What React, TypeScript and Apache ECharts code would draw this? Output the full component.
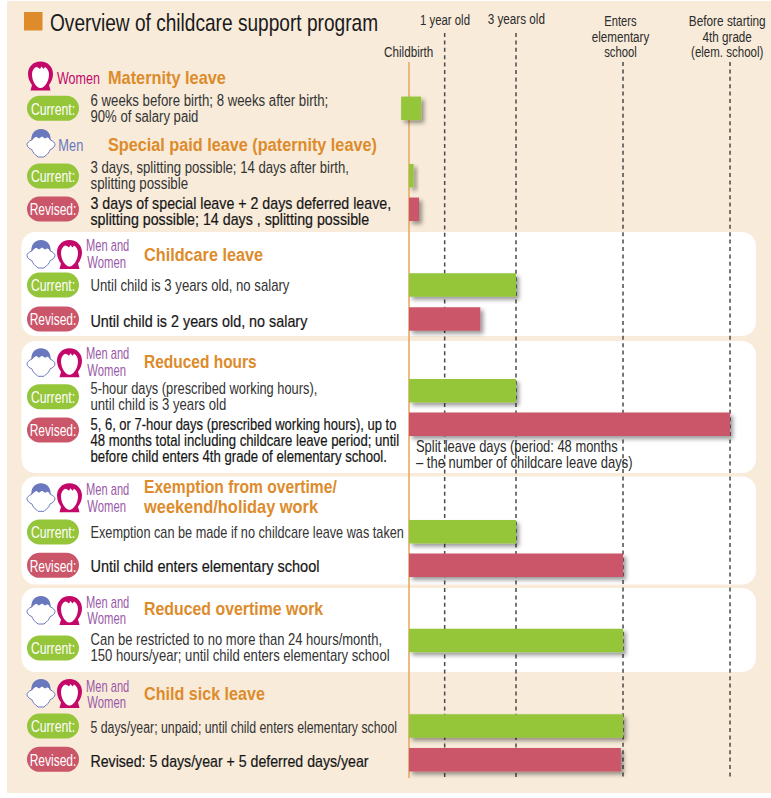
import React, { useEffect, useRef } from "react";
import * as echarts from "echarts";

// ---- data ----
const title = "Overview of childcare support program";
const milestoneNames = ["Childbirth", "1 year old", "3 years old", "Enters\nelementary\nschool", "Before starting\n4th grade\n(elem. school)"];
const milestoneYears = [0, 1, 3, 6, 9];

const barLabels = [
  "Maternity leave, current", "Paternity leave, current", "Paternity leave, revised",
  "Childcare leave, current", "Childcare leave, revised",
  "Reduced hours, current", "Reduced hours, revised",
  "Exemption from overtime, current", "Exemption from overtime, revised",
  "Reduced overtime, current",
  "Child sick leave, current", "Child sick leave, revised",
];
const barStatus = ["Current", "Current", "Revised", "Current", "Revised", "Current", "Revised", "Current", "Revised", "Current", "Current", "Revised"];
const barStartYears = [-0.22, 0, 0, 0, 0, 0, 0, 0, 0, 0, 0, 0];
const barEndYears = [0.34, 0.13, 0.28, 3, 2, 3, 9, 3, 6, 6, 6, 5.94];
const barLanes = [108.3, 175.7, 209.3, 285, 319, 390.7, 424.3, 531.8, 565.3, 640.5, 726, 759.8];

const rowTexts = [
  ["6 weeks before birth; 8 weeks after birth;", "90% of salary paid"],
  ["3 days, splitting possible; 14 days after birth,", "splitting possible"],
  ["3 days of special leave + 2 days deferred leave,", "splitting possible; 14 days , splitting possible"],
  ["Until child is 3 years old, no salary"],
  ["Until child is 2 years old, no salary"],
  ["5-hour days (prescribed working hours),", "until child is 3 years old"],
  ["5, 6, or 7-hour days (prescribed working hours), up to", "48 months total including childcare leave period; until", "before child enters 4th grade of elementary school."],
  ["Exemption can be made if no childcare leave was taken"],
  ["Until child enters elementary school"],
  ["Can be restricted to no more than 24 hours/month,", "150 hours/year; until child enters elementary school"],
  ["5 days/year; unpaid; until child enters elementary school"],
  ["Revised: 5 days/year + 5 deferred days/year"],
];
const noteLines = ["Split leave days (period: 48 months", "– the number of childcare leave days)"];

const sectionWho = ["Women", "Men", "Men and\nWomen", "Men and\nWomen", "Men and\nWomen", "Men and\nWomen", "Men and\nWomen"];
const sectionNames = [
  ["Maternity leave"],
  ["Special paid leave (paternity leave)"],
  ["Childcare leave"],
  ["Reduced hours"],
  ["Exemption from overtime/", "weekend/holiday work"],
  ["Reduced overtime work"],
  ["Child sick leave"],
];

// ---- layout & style ----
const W = 771, H = 798;
const FONT = '"Liberation Sans", Arial, sans-serif';
const GREEN = "#95C539", RED = "#CB566A", ORANGE = "#DD8B2B", DARK = "#2b2b2b";
const BLUE = "#6A78BD", PINK = "#C4086A", PURPLE = "#9A5AA8";
const PX_PER_YEAR = 35.67, ZERO_X = 409;
const panels = [[232, 336], [341, 473], [476.5, 584.5], [588, 672]];
const milestoneTop = [62, 33, 33, 62, 62];
const AXIS_BOTTOM = 778;

const pillLanes = [108.3, 176, 209, 285, 319, 396.7, 430, 532, 565.3, 648, 726, 759.3];
const rowTextFirstLine = [100.7, 168, 203, 286, 321, 388.7, 425, 532.7, 566.7, 640, 727.7, 761];
const rowTextWidths = [[238, 108], [258.7, 97.7], [301, 279], [199], [217], [226.7, 136], [306, 309, 296.7], [313.7], [229], [291.7, 299.3], [306.7], [278.3]];
const iconTops = [61.5, 129, 240, 348.3, 483.3, 596, 679];
const nameX = [108, 108, 144, 144, 144, 144, 144];
const nameLanes = [[78], [145.3], [255], [361.7], [487.7, 507.7], [609.3], [694.7]];
const nameWidths = [[118], [269], [119], [112.7], [193, 174.3], [179.3], [121]];
const whoLanes = [[78], [145.7], [246, 262], [354, 370], [490, 506], [602.7, 618.7], [686.7, 702.7]];
const milestoneCx = [408.7, 445, 516.3, 620.5, 727.2];
const milestoneLanes = [[51.7], [20], [19], [21, 37, 52.3], [21, 37, 52.3]];
const milestoneWidths = [[49.3], [50], [57.3], [32.3, 57.6, 32.7], [77, 49.3, 72.3]];

const HEAD_F_OUTER = "M12.5 0C5 0 0 5.500 0 12.500C0 17 2 21 4 23.500L2.500 29H22.500L21 23.500C23 21 25 17 25 12.500C25 5.500 20 0 12.500 0Z";
const HEAD_F_FACE = "M8 5.500C5.500 7 4 9.500 4 13C4 19 8 26.500 12.500 26.500C17 26.500 21 19 21 13C21 9.500 19.500 7 17 5.500L15.500 7.500L13.500 5L12 7.500L10 6Z";
const HEAD_M_HAIR = "M4.500 12C3.500 5.500 7.500 0 14 0C20.500 0 24.500 5.500 23.500 12C22.800 10 22 9 21 8L18 9.500L15 7.500L12 9.500L9 7.500C7.500 9 5.500 10 4.500 12Z";
const HEAD_M_FACE = "M4.500 11C2 12 0 14 0 15.500C0 17.500 2.500 20 4.800 20.500C5.800 23.500 8 25.800 10 27L11 28H17L18 27C20 25.800 22.200 23.500 23.200 20.500C25.500 20 28 17.500 28 15.500C28 14 26 12 23.500 11C22 5 6 5 4.500 11Z";

echarts.graphic.registerShape("headFOuter", echarts.graphic.extendPath(HEAD_F_OUTER, {}) as any);
echarts.graphic.registerShape("headFFace", echarts.graphic.extendPath(HEAD_F_FACE, {}) as any);
echarts.graphic.registerShape("headMHair", echarts.graphic.extendPath(HEAD_M_HAIR, {}) as any);
echarts.graphic.registerShape("headMFace", echarts.graphic.extendPath(HEAD_M_FACE, {}) as any);

const ctx = document.createElement("canvas").getContext("2d")!;
function fitScale(text: string, size: number, weight: string, width?: number) {
  if (!width) return 0.82;
  ctx.font = `${weight} ${size}px ${FONT}`;
  return width / ctx.measureText(text).width;
}
function txt(x: number, y: number, text: string, fontSize: number, fill: string, width?: number, extra: any = {}) {
  const weight = extra.fontWeight ?? "normal";
  return {
    type: "text", x, y, scaleX: fitScale(text, fontSize, weight, width), silent: true, z: 6,
    style: { text, fontSize, fill, fontFamily: FONT, textVerticalAlign: "middle", fontWeight: weight, textAlign: extra.textAlign ?? "left", stroke: extra.stroke, lineWidth: extra.lineWidth },
  };
}
function female(x: number, y: number) {
  return {
    type: "group", x, y, z: 5, children: [
      { type: "headFOuter", z: 5, style: { fill: PINK } },
      { type: "headFFace", z: 5, style: { fill: "#fff" } },
    ],
  };
}
function male(x: number, y: number) {
  return {
    type: "group", x, y, z: 5, children: [
      { type: "headMFace", z: 5, style: { fill: "#fff", stroke: BLUE, lineWidth: 1 } },
      { type: "headMHair", z: 5, style: { fill: BLUE } },
    ],
  };
}

function buildGraphics() {
  const g: any[] = [];
  g.push({ type: "rect", z: 0, shape: { x: 7, y: 1, width: W - 7, height: 792 }, style: { fill: "#F8EBDA" } });
  panels.forEach(([a, b]) => g.push({ type: "rect", z: 1, shape: { x: 21.5, y: a, width: 734.5, height: b - a, r: 14 }, style: { fill: "#fff" } }));
  g.push({ type: "rect", z: 5, shape: { x: 24, y: 12, width: 18.5, height: 18.5 }, style: { fill: ORANGE } });
  g.push(txt(50, 23, title, 24, "#1a1a1a", 328));

  milestoneNames.forEach((n, i) => {
    n.split("\n").forEach((l, k) => g.push(txt(milestoneCx[i], milestoneLanes[i][k], l, 15, DARK, milestoneWidths[i][k], { textAlign: "center" })));
  });

  sectionWho.forEach((who, i) => {
    const top = iconTops[i];
    if (who === "Women") {
      g.push(female(28, top));
      g.push(txt(57, whoLanes[i][0], who, 16, PINK, 43));
    } else if (who === "Men") {
      g.push(male(27, top));
      g.push(txt(58.3, whoLanes[i][0], who, 16, BLUE, 25));
    } else {
      g.push(male(27, top));
      g.push(female(57, top));
      const [a, b] = who.split("\n");
      g.push(txt(86, whoLanes[i][0], a, 16, PURPLE, 43.3));
      g.push(txt(87.3, whoLanes[i][1], b, 16, PURPLE, 38.7));
    }
    sectionNames[i].forEach((l, k) => g.push(txt(nameX[i], nameLanes[i][k], l, 17.5, ORANGE, nameWidths[i][k], { fontWeight: "bold" })));
  });

  barStatus.forEach((st, i) => {
    const rev = st === "Revised";
    g.push({ type: "rect", z: 5, shape: { x: 27, y: pillLanes[i] - 12.5, width: 52, height: 25, r: 12.5 }, style: { fill: rev ? RED : GREEN } });
    g.push(txt(53, pillLanes[i] + 0.5, st + ":", 17, "#fff", rev ? 46.7 : 44.3, { textAlign: "center" }));
    rowTexts[i].forEach((l, k) => g.push(txt(90.5, rowTextFirstLine[i] + k * 16, l, 16, rev ? "#161616" : "#333", rowTextWidths[i][k], rev ? { stroke: "#161616", lineWidth: 0.2 } : {})));
  });

  g.push(txt(416, 446.7, noteLines[0], 16, DARK, 202));
  g.push(txt(416, 462.7, noteLines[1], 16, DARK, 216.7));
  return g;
}

const dashedSeries = milestoneYears.map((v, i) => ({
  type: "line", name: milestoneNames[i].replace(/\n/g, " "), silent: true, symbol: "none", z: 2,
  data: [[v, milestoneTop[i]], [v, AXIS_BOTTOM]],
  lineStyle: i === 0 ? { color: "#E6A65C", width: 1.5 } : { color: "#4a4a4a", width: 1.5, type: [4, 3.4] as any },
}));

const barSeries = {
  type: "custom", name: "Program duration", silent: true, z: 4,
  encode: { x: [0, 1], y: 2 },
  data: barLabels.map((n, i) => ({ name: n, value: [barStartYears[i], barEndYears[i], barLanes[i]] })),
  renderItem: (params: any, api: any) => {
    const a = api.coord([api.value(0), api.value(2)]);
    const b = api.coord([api.value(1), api.value(2)]);
    const h = api.size([0, 23.5])[1];
    return {
      type: "rect",
      shape: { x: a[0], y: a[1] - h / 2, width: b[0] - a[0], height: h },
      style: { fill: barStatus[params.dataIndex] === "Revised" ? RED : GREEN, shadowBlur: 4, shadowOffsetX: 3, shadowOffsetY: 3, shadowColor: "rgba(0,0,0,0.4)" },
    };
  },
};

export default function App() {
  const ref = useRef<HTMLDivElement>(null);
  useEffect(() => {
    document.body.style.margin = "0";
    document.body.style.background = "#fff";
    const chart = echarts.init(ref.current!, undefined, { renderer: "svg" });
    chart.setOption({
      animation: false,
      grid: { left: ZERO_X - PX_PER_YEAR, width: PX_PER_YEAR * 10.5, top: 0, height: H },
      xAxis: { type: "value", min: -1, max: 9.5, show: false, splitLine: { show: false } },
      yAxis: { type: "value", min: 0, max: H, inverse: true, show: false, splitLine: { show: false } },
      graphic: { elements: buildGraphics() },
      series: [...dashedSeries, barSeries],
    });
    return () => chart.dispose();
  }, []);
  return <div ref={ref} style={{ width: W, height: H }} />;
}
